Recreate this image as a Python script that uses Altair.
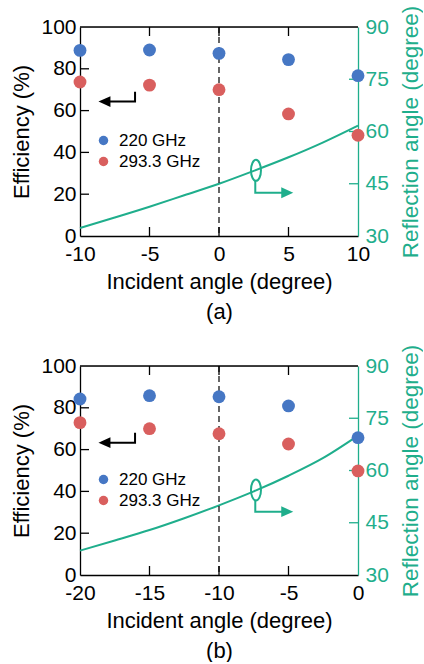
import altair as alt
import pandas as pd

FONT = "Liberation Sans"
BLUE = "#4677c4"
RED = "#d95f5e"
TEAL = "#1fae8c"
BLACK = "#000000"

series_names = ["220 GHz", "293.3 GHz"]
eff_ticks = [0, 20, 40, 60, 80, 100]
refl_ticks = [30, 45, 60, 75, 90]

# ---- panel (a)
a_incident = [-10, -5, 0, 5, 10]
a_eff_220 = [88.8, 89.0, 87.4, 84.4, 76.7]
a_eff_293 = [73.7, 72.2, 70.0, 58.4, 48.2]
a_curve_x = [-10, -7.5, -5, -2.5, 0, 2.5, 5, 7.5, 10]
a_curve_y = [32.3, 35.3, 38.4, 41.7, 45.0, 48.7, 52.6, 56.9, 61.7]
a_xticks = [-10, -5, 0, 5, 10]
a_xdomain = [-10, 10]
a_dash_x = [0]
a_black_arrow_x = [-6.04, -6.04, -8.1]
a_black_arrow_y = [69.0, 64.3, 64.3]
a_black_head = [-8.24, 64.3]
a_ellipse = [2.66, 31.4]
a_teal_arrow_x = [2.61, 2.61, 4.8]
a_teal_arrow_y = [26.3, 20.7, 20.7]
a_teal_head = [4.91, 20.7]

# ---- panel (b)
b_incident = [-20, -15, -10, -5, 0]
b_eff_220 = [84.2, 85.8, 85.3, 80.9, 65.7]
b_eff_293 = [72.9, 70.0, 67.6, 62.7, 49.8]
b_curve_x = [-20, -17.5, -15, -12.5, -10, -7.5, -5, -2.5, 0]
b_curve_y = [37.0, 39.9, 42.9, 46.3, 50.0, 54.0, 58.5, 63.6, 70.0]
b_xticks = [-20, -15, -10, -5, 0]
b_xdomain = [-20, 0]
b_dash_x = [-10]
b_black_arrow_x = [-16.04, -16.04, -18.1]
b_black_arrow_y = [68.1, 63.3, 63.3]
b_black_head = [-18.24, 63.3]
b_ellipse = [-7.34, 40.7]
b_teal_arrow_x = [-7.39, -7.39, -5.2]
b_teal_arrow_y = [35.9, 30.3, 30.3]
b_teal_head = [-5.09, 30.3]

W, H = 278, 209
TICK = 9
FS = 21
TFS = 22

ARROW_LEFT = "M -1 0 L 1 -0.9 L 1 0.9 Z"
ARROW_RIGHT = "M 1 0 L -1 -0.9 L -1 0.9 Z"
ELLIPSE = "M -0.476 0 A 0.476 1 0 1 0 0.476 0 A 0.476 1 0 1 0 -0.476 0 Z"


def panel(incident, e220, e293, cx, cy, xdom, xticks, dash_x,
          bk_x, bk_y, bk_head, ell, tl_x, tl_y, tl_head, label):
    xs = alt.Scale(domain=xdom, nice=False, zero=False)
    ys = alt.Scale(domain=[0, 100], nice=False, zero=False)
    rs = alt.Scale(domain=[30, 90], nice=False, zero=False)

    x_axis = alt.Axis(
        values=xticks, ticks=False, tickSize=0, grid=False, labelPadding=7,
        labelFontSize=FS, labelColor=BLACK, labelFlush=False,
        labelExpr="'' + datum.value",
        domainColor=BLACK, domainWidth=1.3,
        title=["Incident angle (degree)", label], titleFontSize=TFS,
        titleFontWeight="normal", titleColor=BLACK, titlePadding=7,
        titleLineHeight=30, orient="bottom")
    y_axis = alt.Axis(
        values=eff_ticks, ticks=False, tickSize=0, grid=False, labelPadding=4,
        labelFontSize=FS, labelColor=BLACK, labelFlush=False,
        domainColor=BLACK, domainWidth=1.3,
        title="Efficiency (%)", titleFontSize=TFS, titleFontWeight="normal",
        titleColor=BLACK, titlePadding=7, orient="left")
    r_axis = alt.Axis(
        values=refl_ticks, ticks=False, tickSize=0, grid=False, labelPadding=7,
        labelFontSize=FS, labelColor=TEAL, labelFlush=False,
        domainColor=TEAL, domainWidth=1.3,
        title="Reflection angle (degree)", titleFontSize=22.5, titleFontWeight="normal",
        titleColor=TEAL, titlePadding=11, titleAngle=270, titleBaseline="top",
        orient="right")

    def X():
        return alt.X("x:Q", scale=xs, axis=x_axis)

    def Y():
        return alt.Y("y:Q", scale=ys, axis=y_axis)

    def R():
        return alt.Y("y:Q", scale=rs, axis=r_axis)

    pts = pd.DataFrame({
        "x": incident + incident,
        "y": e220 + e293,
        "series": [series_names[0]] * len(incident) + [series_names[1]] * len(incident),
    })
    points = alt.Chart(pts).mark_circle(size=165, opacity=1).encode(
        x=X(), y=Y(),
        color=alt.Color("series:N", scale=alt.Scale(domain=series_names, range=[BLUE, RED]),
                        legend=alt.Legend(
                            orient="none", legendX=15, legendY=105, title=None,
                            symbolType="circle", symbolSize=90, symbolStrokeWidth=0,
                            labelFontSize=17, labelColor=BLACK, labelOffset=7,
                            rowPadding=3, padding=0)),
    )

    dash = alt.Chart(pd.DataFrame({"x": dash_x})).mark_rule(
        color=BLACK, strokeWidth=1.2, strokeDash=[6, 4]).encode(
        x=X(), y=alt.value(0), y2=alt.value(H))

    ticks_left = alt.Chart(pd.DataFrame({"y": eff_ticks[1:-1]})).mark_rule(
        color=BLACK, strokeWidth=1.3).encode(
        y=Y(), x=alt.value(0), x2=alt.value(TICK))
    ticks_bottom = alt.Chart(pd.DataFrame({"x": xticks[1:-1]})).mark_rule(
        color=BLACK, strokeWidth=1.3).encode(
        x=X(), y=alt.value(H), y2=alt.value(H - TICK))
    ticks_top = alt.Chart(pd.DataFrame({"x": xticks[1:-1]})).mark_rule(
        color=BLACK, strokeWidth=1.3).encode(
        x=X(), y=alt.value(0), y2=alt.value(TICK))
    top_frame = alt.Chart(pd.DataFrame({"x": [xdom[0]]})).mark_rule(
        color=BLACK, strokeWidth=1.3).encode(
        x=alt.value(0), x2=alt.value(W), y=alt.value(0))

    bk = pd.DataFrame({"x": bk_x, "y": bk_y, "o": list(range(len(bk_x)))})
    black_line = alt.Chart(bk).mark_line(color=BLACK, strokeWidth=2).encode(
        x=X(), y=Y(), order="o:Q")
    black_head = alt.Chart(pd.DataFrame({"x": [bk_head[0]], "y": [bk_head[1]]})).mark_point(
        shape=ARROW_LEFT, size=144, filled=True, opacity=1, color=BLACK, strokeWidth=0).encode(
        x=X(), y=Y())

    tl = pd.DataFrame({"x": tl_x, "y": tl_y, "o": list(range(len(tl_x)))})
    teal_line = alt.Chart(tl).mark_line(color=TEAL, strokeWidth=2).encode(
        x=X(), y=Y(), order="o:Q")
    teal_head = alt.Chart(pd.DataFrame({"x": [tl_head[0]], "y": [tl_head[1]]})).mark_point(
        shape=ARROW_RIGHT, size=144, filled=True, opacity=1, color=TEAL, strokeWidth=0).encode(
        x=X(), y=Y())
    ellipse = alt.Chart(pd.DataFrame({"x": [ell[0]], "y": [ell[1]]})).mark_point(
        shape=ELLIPSE, size=441, filled=False, opacity=1, color=TEAL, strokeWidth=2).encode(
        x=X(), y=Y())

    left_group = alt.layer(dash, ticks_left, ticks_bottom, ticks_top, top_frame,
                           black_line, black_head, teal_line, teal_head, ellipse, points)

    curve = alt.Chart(pd.DataFrame({"x": cx, "y": cy})).mark_line(
        color=TEAL, strokeWidth=2, interpolate="monotone").encode(x=X(), y=R())
    ticks_right = alt.Chart(pd.DataFrame({"y": refl_ticks[1:-1]})).mark_rule(
        color=TEAL, strokeWidth=1.3).encode(
        y=R(), x=alt.value(W), x2=alt.value(W - TICK))
    right_group = alt.layer(curve, ticks_right)

    return alt.layer(right_group, left_group).resolve_scale(y="independent").properties(
        width=W, height=H)


pa = panel(a_incident, a_eff_220, a_eff_293, a_curve_x, a_curve_y, a_xdomain, a_xticks,
           a_dash_x, a_black_arrow_x, a_black_arrow_y, a_black_head, a_ellipse,
           a_teal_arrow_x, a_teal_arrow_y, a_teal_head, "(a)")
pb = panel(b_incident, b_eff_220, b_eff_293, b_curve_x, b_curve_y, b_xdomain, b_xticks,
           b_dash_x, b_black_arrow_x, b_black_arrow_y, b_black_head, b_ellipse,
           b_teal_arrow_x, b_teal_arrow_y, b_teal_head, "(b)")

chart = alt.vconcat(pa, pb, spacing=20).resolve_scale(
    color="independent").resolve_legend(color="independent").configure_view(
    stroke=None).configure(
    font=FONT, padding={"left": 10, "top": 4, "right": 0, "bottom": 0},
    background="white")

chart.save("out.html", embed_options={"renderer": "svg", "actions": False})
